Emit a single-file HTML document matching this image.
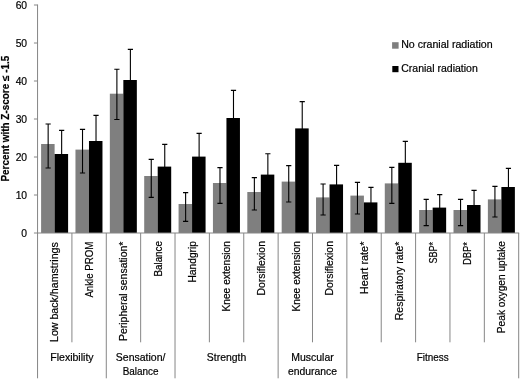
<!DOCTYPE html>
<html lang="en"><head><meta charset="utf-8"><title>Chart</title>
<style>html,body{margin:0;padding:0;background:#fff}svg{display:block}text{font-family:"Liberation Sans",Arial,sans-serif;fill:#000;stroke:#000;stroke-width:0.2px}</style></head><body>
<svg width="520" height="380" viewBox="0 0 520 380">
<defs><filter id="soft" x="0" y="0" width="520" height="380" filterUnits="userSpaceOnUse"><feGaussianBlur stdDeviation="0.35"/></filter></defs>
<rect width="520" height="380" fill="#fff"/>
<g filter="url(#soft)">
<rect x="41.10" y="144.00" width="13.50" height="89.00" fill="#7f7f7f"/>
<rect x="54.60" y="154.00" width="13.50" height="79.00" fill="#000"/>
<rect x="75.47" y="149.60" width="13.50" height="83.40" fill="#7f7f7f"/>
<rect x="88.97" y="141.00" width="13.50" height="92.00" fill="#000"/>
<rect x="109.84" y="93.70" width="13.50" height="139.30" fill="#7f7f7f"/>
<rect x="123.34" y="80.00" width="13.50" height="153.00" fill="#000"/>
<rect x="144.20" y="176.00" width="13.50" height="57.00" fill="#7f7f7f"/>
<rect x="157.70" y="166.60" width="13.50" height="66.40" fill="#000"/>
<rect x="178.57" y="204.00" width="13.50" height="29.00" fill="#7f7f7f"/>
<rect x="192.07" y="156.60" width="13.50" height="76.40" fill="#000"/>
<rect x="212.94" y="183.00" width="13.50" height="50.00" fill="#7f7f7f"/>
<rect x="226.44" y="118.00" width="13.50" height="115.00" fill="#000"/>
<rect x="247.31" y="192.00" width="13.50" height="41.00" fill="#7f7f7f"/>
<rect x="260.81" y="174.60" width="13.50" height="58.40" fill="#000"/>
<rect x="281.68" y="181.60" width="13.50" height="51.40" fill="#7f7f7f"/>
<rect x="295.18" y="128.40" width="13.50" height="104.60" fill="#000"/>
<rect x="316.04" y="197.40" width="13.50" height="35.60" fill="#7f7f7f"/>
<rect x="329.54" y="184.40" width="13.50" height="48.60" fill="#000"/>
<rect x="350.41" y="195.60" width="13.50" height="37.40" fill="#7f7f7f"/>
<rect x="363.91" y="202.40" width="13.50" height="30.60" fill="#000"/>
<rect x="384.78" y="183.40" width="13.50" height="49.60" fill="#7f7f7f"/>
<rect x="398.28" y="162.80" width="13.50" height="70.20" fill="#000"/>
<rect x="419.15" y="210.00" width="13.50" height="23.00" fill="#7f7f7f"/>
<rect x="432.65" y="207.60" width="13.50" height="25.40" fill="#000"/>
<rect x="453.51" y="210.00" width="13.50" height="23.00" fill="#7f7f7f"/>
<rect x="467.01" y="205.00" width="13.50" height="28.00" fill="#000"/>
<rect x="487.88" y="199.40" width="13.50" height="33.60" fill="#7f7f7f"/>
<rect x="501.38" y="187.00" width="13.50" height="46.00" fill="#000"/>
<path d="M48.15 124.00V168.00M45.55 124.00H50.75M45.55 168.00H50.75" stroke="#000" stroke-width="1.1" fill="none"/>
<path d="M61.65 130.40V155.00M59.05 130.40H64.25" stroke="#000" stroke-width="1.1" fill="none"/>
<path d="M82.52 129.40V173.00M79.92 129.40H85.12M79.92 173.00H85.12" stroke="#000" stroke-width="1.1" fill="none"/>
<path d="M96.02 115.40V142.00M93.42 115.40H98.62" stroke="#000" stroke-width="1.1" fill="none"/>
<path d="M116.89 69.20V119.50M114.29 69.20H119.49M114.29 119.50H119.49" stroke="#000" stroke-width="1.1" fill="none"/>
<path d="M130.39 49.40V81.00M127.79 49.40H132.99" stroke="#000" stroke-width="1.1" fill="none"/>
<path d="M151.25 159.40V197.40M148.65 159.40H153.85M148.65 197.40H153.85" stroke="#000" stroke-width="1.1" fill="none"/>
<path d="M164.75 144.40V167.60M162.15 144.40H167.35" stroke="#000" stroke-width="1.1" fill="none"/>
<path d="M185.62 192.60V221.40M183.02 192.60H188.22M183.02 221.40H188.22" stroke="#000" stroke-width="1.1" fill="none"/>
<path d="M199.12 133.40V157.60M196.52 133.40H201.72" stroke="#000" stroke-width="1.1" fill="none"/>
<path d="M219.99 167.60V203.40M217.39 167.60H222.59M217.39 203.40H222.59" stroke="#000" stroke-width="1.1" fill="none"/>
<path d="M233.49 90.40V119.00M230.89 90.40H236.09" stroke="#000" stroke-width="1.1" fill="none"/>
<path d="M254.36 177.60V210.00M251.76 177.60H256.96M251.76 210.00H256.96" stroke="#000" stroke-width="1.1" fill="none"/>
<path d="M267.86 153.80V175.60M265.26 153.80H270.46" stroke="#000" stroke-width="1.1" fill="none"/>
<path d="M288.73 165.60V202.00M286.13 165.60H291.33M286.13 202.00H291.33" stroke="#000" stroke-width="1.1" fill="none"/>
<path d="M302.23 101.60V129.40M299.63 101.60H304.83" stroke="#000" stroke-width="1.1" fill="none"/>
<path d="M323.09 184.00V215.00M320.49 184.00H325.69M320.49 215.00H325.69" stroke="#000" stroke-width="1.1" fill="none"/>
<path d="M336.59 165.40V185.40M333.99 165.40H339.19" stroke="#000" stroke-width="1.1" fill="none"/>
<path d="M357.46 182.40V214.00M354.86 182.40H360.06M354.86 214.00H360.06" stroke="#000" stroke-width="1.1" fill="none"/>
<path d="M370.96 187.40V203.40M368.36 187.40H373.56" stroke="#000" stroke-width="1.1" fill="none"/>
<path d="M391.83 167.40V203.40M389.23 167.40H394.43M389.23 203.40H394.43" stroke="#000" stroke-width="1.1" fill="none"/>
<path d="M405.33 141.40V163.80M402.73 141.40H407.93" stroke="#000" stroke-width="1.1" fill="none"/>
<path d="M426.20 199.40V225.60M423.60 199.40H428.80M423.60 225.60H428.80" stroke="#000" stroke-width="1.1" fill="none"/>
<path d="M439.70 194.60V208.60M437.10 194.60H442.30" stroke="#000" stroke-width="1.1" fill="none"/>
<path d="M460.56 199.40V225.60M457.96 199.40H463.16M457.96 225.60H463.16" stroke="#000" stroke-width="1.1" fill="none"/>
<path d="M474.06 190.40V206.00M471.46 190.40H476.66" stroke="#000" stroke-width="1.1" fill="none"/>
<path d="M494.93 186.40V217.00M492.33 186.40H497.53M492.33 217.00H497.53" stroke="#000" stroke-width="1.1" fill="none"/>
<path d="M508.43 168.40V188.00M505.83 168.40H511.03" stroke="#000" stroke-width="1.1" fill="none"/>
<g stroke="#868686" stroke-width="1" fill="none">
<path d="M37.55 4.50V233.50"/>
<path d="M37.05 233.00H519.20"/>
<path d="M33.95 233.00H37.55"/>
<path d="M33.95 195.00H37.55"/>
<path d="M33.95 157.00H37.55"/>
<path d="M33.95 119.00H37.55"/>
<path d="M33.95 81.00H37.55"/>
<path d="M33.95 43.00H37.55"/>
<path d="M33.95 5.00H37.55"/>
<path d="M37.55 233.00V378.3"/>
<path d="M71.92 233.00V342.3"/>
<path d="M106.29 233.00V378.3"/>
<path d="M140.65 233.00V342.3"/>
<path d="M175.02 233.00V378.3"/>
<path d="M209.39 233.00V342.3"/>
<path d="M243.76 233.00V342.3"/>
<path d="M278.13 233.00V378.3"/>
<path d="M312.49 233.00V342.3"/>
<path d="M346.86 233.00V378.3"/>
<path d="M381.23 233.00V342.3"/>
<path d="M415.60 233.00V342.3"/>
<path d="M449.96 233.00V342.3"/>
<path d="M484.33 233.00V342.3"/>
<path d="M518.70 233.00V378.3"/>
</g>
<text x="27.1" y="236.55" font-size="10.3" text-anchor="end">0</text>
<text x="27.1" y="198.55" font-size="10.3" text-anchor="end">10</text>
<text x="27.1" y="160.55" font-size="10.3" text-anchor="end">20</text>
<text x="27.1" y="122.55" font-size="10.3" text-anchor="end">30</text>
<text x="27.1" y="84.55" font-size="10.3" text-anchor="end">40</text>
<text x="27.1" y="46.55" font-size="10.3" text-anchor="end">50</text>
<text x="27.1" y="8.55" font-size="10.3" text-anchor="end">60</text>
<text transform="translate(8.6 181.6) rotate(-90)" font-size="10.3" font-weight="bold" stroke-width="0.45" textLength="126" lengthAdjust="spacingAndGlyphs">Percent with Z-score ≤ -1.5</text>
<text transform="translate(58.40 342.00) rotate(-90)" font-size="10.3" textLength="99.8" lengthAdjust="spacingAndGlyphs">Low back/hamstrings</text>
<text transform="translate(93.20 297.60) rotate(-90)" font-size="10.3" textLength="56.0" lengthAdjust="spacingAndGlyphs">Ankle PROM</text>
<text transform="translate(127.40 341.00) rotate(-90)" font-size="10.3" textLength="99.4" lengthAdjust="spacingAndGlyphs">Peripheral sensation*</text>
<text transform="translate(161.60 276.60) rotate(-90)" font-size="10.3" textLength="35.6" lengthAdjust="spacingAndGlyphs">Balance</text>
<text transform="translate(195.60 282.60) rotate(-90)" font-size="10.3" textLength="41.6" lengthAdjust="spacingAndGlyphs">Handgrip</text>
<text transform="translate(230.00 311.60) rotate(-90)" font-size="10.3" textLength="70.6" lengthAdjust="spacingAndGlyphs">Knee extension</text>
<text transform="translate(264.60 295.60) rotate(-90)" font-size="10.3" textLength="54.6" lengthAdjust="spacingAndGlyphs">Dorsiflexion</text>
<text transform="translate(299.60 311.60) rotate(-90)" font-size="10.3" textLength="70.6" lengthAdjust="spacingAndGlyphs">Knee extension</text>
<text transform="translate(333.10 295.60) rotate(-90)" font-size="10.3" textLength="54.6" lengthAdjust="spacingAndGlyphs">Dorsiflexion</text>
<text transform="translate(367.50 294.20) rotate(-90)" font-size="10.3" textLength="52.6" lengthAdjust="spacingAndGlyphs">Heart rate*</text>
<text transform="translate(402.90 320.20) rotate(-90)" font-size="10.3" textLength="78.6" lengthAdjust="spacingAndGlyphs">Respiratory rate*</text>
<text transform="translate(437.00 263.60) rotate(-90)" font-size="10.3" textLength="21.6" lengthAdjust="spacingAndGlyphs">SBP*</text>
<text transform="translate(471.00 265.00) rotate(-90)" font-size="10.3" textLength="23.0" lengthAdjust="spacingAndGlyphs">DBP*</text>
<text transform="translate(505.40 333.20) rotate(-90)" font-size="10.3" textLength="92.2" lengthAdjust="spacingAndGlyphs">Peak oxygen uptake</text>
<text x="50.22" y="360.5" font-size="10.3" textLength="43.4" lengthAdjust="spacingAndGlyphs">Flexibility</text>
<text x="115.85" y="360.5" font-size="10.3" textLength="49.6" lengthAdjust="spacingAndGlyphs">Sensation/</text>
<text x="122.65" y="375" font-size="10.3" textLength="36" lengthAdjust="spacingAndGlyphs">Balance</text>
<text x="206.87" y="360.5" font-size="10.3" textLength="39.4" lengthAdjust="spacingAndGlyphs">Strength</text>
<text x="291.29" y="360.5" font-size="10.3" textLength="42.4" lengthAdjust="spacingAndGlyphs">Muscular</text>
<text x="287.99" y="375" font-size="10.3" textLength="49" lengthAdjust="spacingAndGlyphs">endurance</text>
<text x="416.78" y="360.5" font-size="10.3" textLength="32" lengthAdjust="spacingAndGlyphs">Fitness</text>
<rect x="392.1" y="42.2" width="6.5" height="6.5" fill="#7f7f7f"/>
<rect x="392.3" y="66" width="6.2" height="6.2" fill="#000"/>
<text x="401.2" y="48.4" font-size="10.3" textLength="91.4" lengthAdjust="spacingAndGlyphs">No cranial radiation</text>
<text x="401.2" y="72.0" font-size="10.3" textLength="76.6" lengthAdjust="spacingAndGlyphs">Cranial radiation</text>
</g>
</svg></body></html>
